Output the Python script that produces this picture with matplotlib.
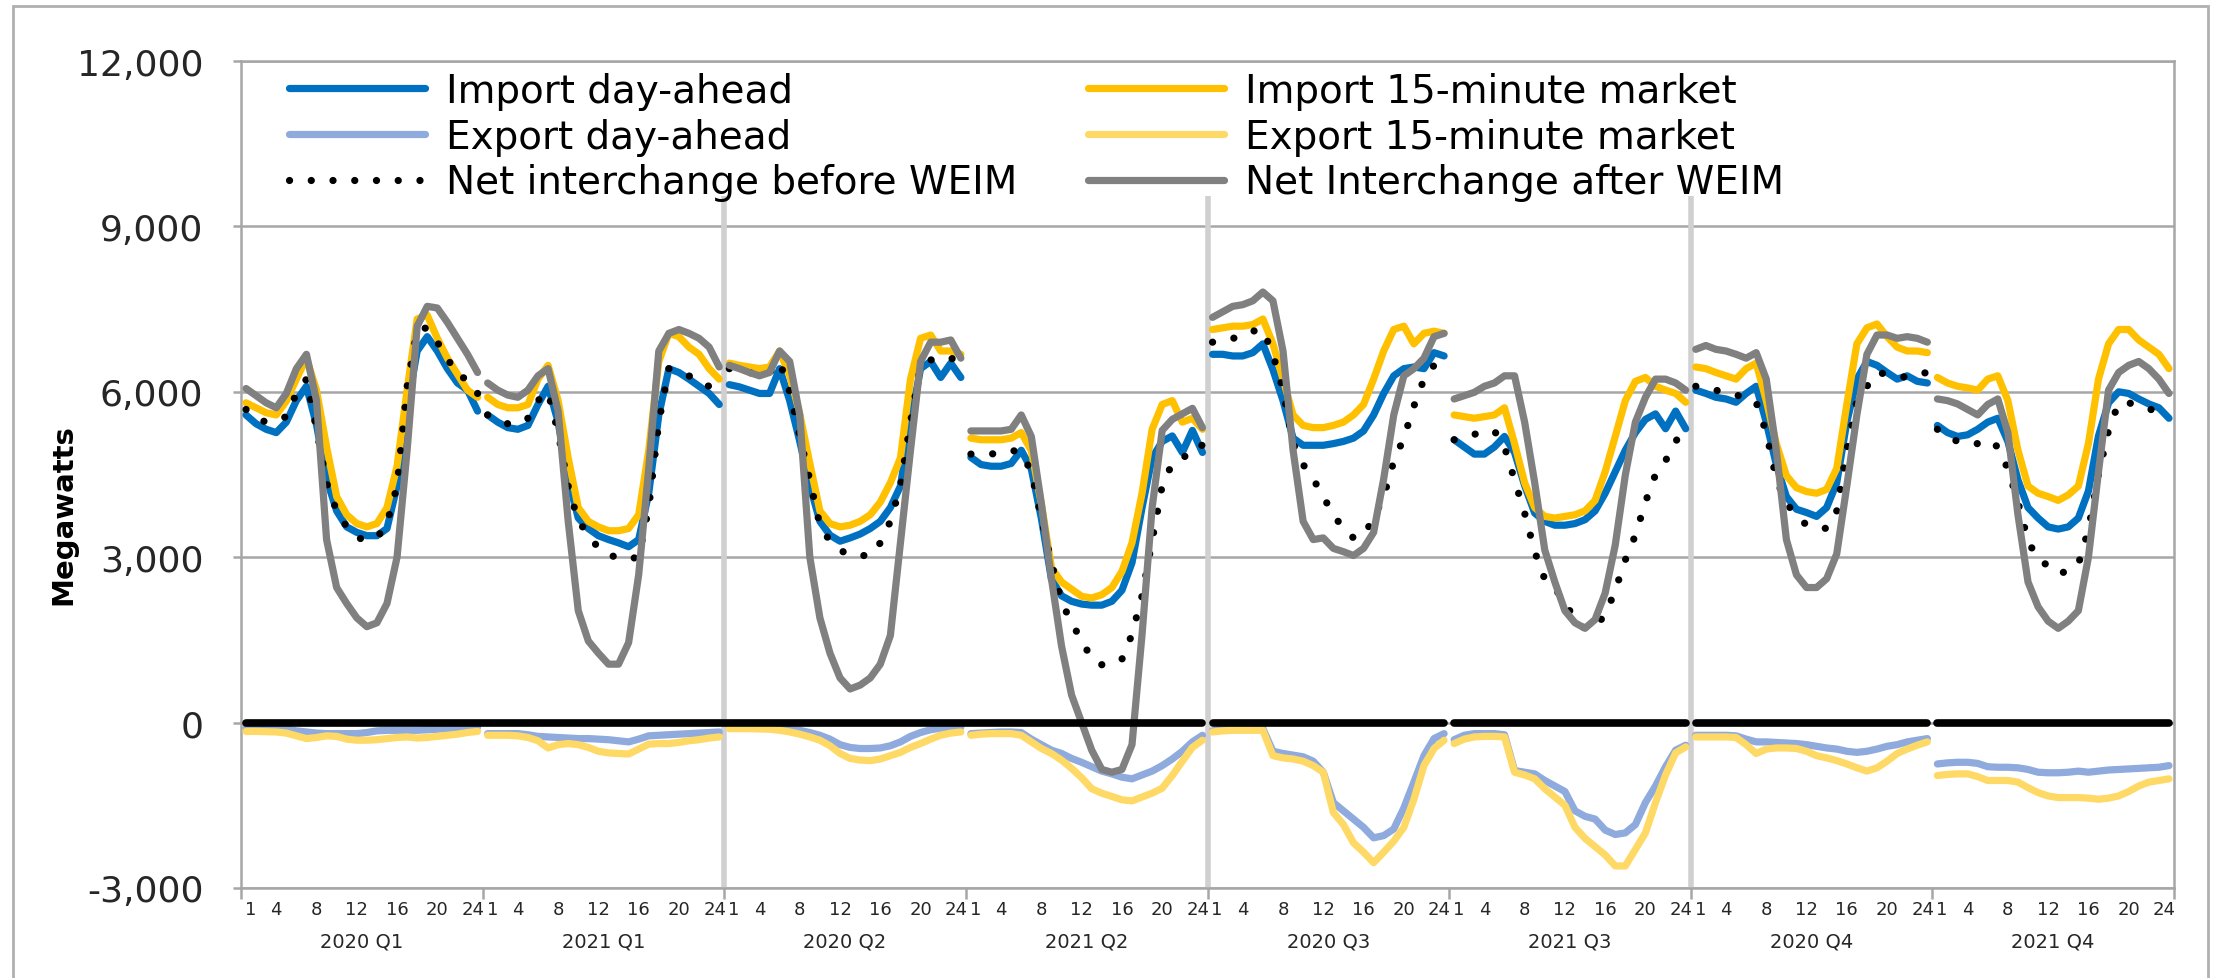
import numpy as np
import matplotlib
matplotlib.use("Agg")
import matplotlib.pyplot as plt
from matplotlib.lines import Line2D
from matplotlib.patches import Rectangle
from matplotlib.ticker import FuncFormatter

# average hourly WEIM transfers (MW) by quarter, hour-ending 1..24
quarters = ['2020 Q1', '2021 Q1', '2020 Q2', '2021 Q2',
            '2020 Q3', '2021 Q3', '2020 Q4', '2021 Q4']
hour_ticks = [1, 4, 8, 12, 16, 20, 24]

import_da = [
    [5580, 5420, 5320, 5260, 5450, 5840, 6100, 5400, 4420, 3840, 3550, 3450, 3390, 3390, 3520, 4290, 5710, 6740, 7000, 6740, 6420, 6160, 6030, 5650],
    [5580, 5450, 5350, 5320, 5390, 5770, 6100, 5450, 4420, 3710, 3520, 3390, 3320, 3260, 3190, 3320, 4160, 5580, 6420, 6350, 6230, 6100, 5970, 5770],
    [6130, 6090, 6030, 5970, 5970, 6420, 5840, 5100, 4300, 3650, 3400, 3290, 3350, 3420, 3520, 3650, 3900, 4290, 5450, 6420, 6550, 6260, 6520, 6260],
    [4810, 4680, 4650, 4650, 4700, 4940, 4600, 3700, 2600, 2300, 2200, 2150, 2130, 2130, 2200, 2400, 2900, 3900, 4800, 5100, 5200, 4900, 5300, 4900],
    [6680, 6680, 6650, 6650, 6710, 6870, 6400, 5840, 5160, 5030, 5030, 5030, 5060, 5100, 5160, 5290, 5580, 5970, 6290, 6420, 6450, 6420, 6710, 6650],
    [5130, 5000, 4870, 4870, 5000, 5190, 4900, 4300, 3800, 3650, 3580, 3580, 3610, 3680, 3840, 4160, 4550, 4940, 5260, 5500, 5600, 5330, 5650, 5330],
    [6030, 5970, 5900, 5870, 5810, 5970, 6100, 5450, 4680, 4100, 3870, 3810, 3740, 3900, 4350, 5450, 6230, 6550, 6480, 6350, 6230, 6290, 6190, 6160],
    [5390, 5260, 5190, 5220, 5320, 5450, 5520, 5100, 4400, 3900, 3710, 3550, 3510, 3550, 3710, 4200, 5200, 5800, 6000, 5970, 5870, 5780, 5710, 5520],
]

import_15m = [
    [5800, 5710, 5620, 5580, 5830, 6230, 6610, 6030, 5000, 4100, 3770, 3610, 3550, 3610, 3900, 4650, 6030, 7320, 7390, 6970, 6610, 6320, 6030, 5900],
    [5900, 5770, 5710, 5710, 5770, 6230, 6480, 5840, 4800, 3900, 3650, 3550, 3480, 3480, 3520, 3770, 4935, 6550, 7060, 7000, 6810, 6680, 6420, 6230],
    [6520, 6480, 6450, 6420, 6450, 6740, 6300, 5600, 4700, 3840, 3610, 3550, 3580, 3650, 3770, 4000, 4350, 4800, 6230, 6970, 7030, 6740, 6740, 6680],
    [5160, 5130, 5130, 5130, 5160, 5260, 4935, 3970, 2810, 2550, 2420, 2290, 2260, 2320, 2450, 2740, 3260, 4160, 5320, 5770, 5840, 5450, 5520, 5320],
    [7130, 7160, 7190, 7190, 7220, 7320, 6870, 6230, 5580, 5390, 5350, 5350, 5390, 5450, 5580, 5770, 6230, 6740, 7130, 7190, 6870, 7060, 7100, 7060],
    [5580, 5550, 5520, 5550, 5580, 5710, 5060, 4350, 3900, 3740, 3710, 3740, 3770, 3840, 4030, 4550, 5190, 5840, 6190, 6260, 6100, 6030, 5970, 5810],
    [6450, 6420, 6350, 6290, 6230, 6420, 6520, 5840, 5060, 4480, 4260, 4190, 4160, 4230, 4610, 5770, 6870, 7160, 7230, 7000, 6810, 6740, 6740, 6710],
    [6260, 6160, 6100, 6070, 6030, 6230, 6290, 5840, 4940, 4290, 4160, 4100, 4030, 4130, 4290, 5060, 6230, 6870, 7130, 7130, 6940, 6810, 6680, 6420],
]

export_da = [
    [-100, -100, -100, -110, -120, -150, -170, -190, -200, -200, -200, -200, -180, -150, -140, -140, -140, -140, -130, -120, -110, -100, -90, -80],
    [-200, -200, -200, -200, -220, -250, -260, -270, -280, -290, -290, -300, -310, -330, -350, -300, -240, -230, -220, -210, -200, -190, -180, -170],
    [-80, -80, -80, -80, -80, -90, -110, -140, -180, -230, -300, -400, -450, -470, -470, -460, -420, -350, -250, -180, -130, -100, -90, -80],
    [-200, -190, -180, -170, -170, -180, -300, -400, -500, -560, -650, -720, -800, -880, -930, -990, -1020, -950, -880, -780, -660, -520, -350, -230],
    [-150, -120, -110, -110, -110, -110, -520, -560, -590, -620, -700, -900, -1450, -1600, -1750, -1900, -2090, -2050, -1930, -1550, -1080, -600, -290, -200],
    [-310, -230, -200, -200, -200, -220, -870, -900, -930, -1050, -1150, -1250, -1600, -1700, -1750, -1950, -2030, -2000, -1850, -1450, -1150, -800, -500, -410],
    [-230, -230, -230, -230, -240, -300, -350, -350, -360, -370, -380, -400, -430, -460, -480, -520, -540, -520, -480, -430, -400, -350, -320, -290],
    [-750, -730, -720, -720, -740, -800, -810, -810, -820, -850, -900, -910, -910, -900, -880, -900, -880, -860, -850, -840, -830, -820, -810, -780],
]

export_15m = [
    [-160, -160, -165, -170, -190, -240, -290, -270, -240, -250, -300, -320, -320, -310, -290, -270, -260, -280, -270, -250, -230, -210, -180, -160],
    [-230, -230, -230, -240, -270, -330, -460, -400, -380, -400, -450, -520, -550, -560, -570, -480, -390, -380, -380, -360, -330, -310, -280, -260],
    [-110, -110, -110, -115, -120, -140, -170, -210, -260, -320, -420, -560, -650, -680, -690, -660, -600, -540, -450, -380, -300, -230, -190, -170],
    [-230, -210, -200, -200, -200, -230, -350, -470, -560, -680, -830, -1000, -1200, -1280, -1340, -1400, -1420, -1350, -1280, -1190, -960, -700, -450, -320],
    [-170, -150, -140, -140, -140, -140, -600, -640, -660, -700, -780, -900, -1630, -1850, -2180, -2350, -2540, -2350, -2150, -1900, -1390, -780, -470, -320],
    [-380, -300, -260, -250, -250, -260, -900, -950, -1020, -1200, -1350, -1500, -1900, -2100, -2250, -2400, -2600, -2600, -2300, -2000, -1450, -950, -550, -440],
    [-260, -260, -260, -260, -270, -400, -560, -480, -460, -460, -470, -520, -600, -640, -690, -750, -820, -880, -820, -700, -560, -480, -410, -350],
    [-960, -940, -930, -930, -980, -1050, -1050, -1050, -1080, -1180, -1270, -1330, -1360, -1360, -1360, -1370, -1390, -1370, -1330, -1250, -1150, -1080, -1050, -1020],
]

net_before = [
    [5680, 5520, 5450, 5480, 5550, 5970, 6230, 5320, 4350, 3840, 3550, 3350, 3320, 3350, 3610, 4290, 6100, 7130, 7160, 6900, 6610, 6290, 6230, 5970],
    [5580, 5480, 5420, 5420, 5520, 5840, 6000, 5260, 4290, 3650, 3420, 3160, 3060, 2970, 2970, 3000, 3900, 5450, 6420, 6350, 6290, 6160, 6100, 6000],
    [6420, 6400, 6350, 6300, 6350, 6550, 6000, 5200, 4400, 3580, 3290, 3130, 3030, 3030, 3030, 3260, 3650, 4290, 5450, 6480, 6580, 6550, 6610, 6550],
    [4870, 4870, 4870, 4900, 4940, 4900, 4550, 3700, 2900, 2200, 1800, 1500, 1150, 1050, 1060, 1150, 1600, 2300, 3300, 4300, 4700, 4770, 5000, 5030],
    [6900, 6950, 6970, 7000, 7100, 7130, 6680, 6030, 5060, 4680, 4420, 4100, 3770, 3520, 3350, 3390, 3710, 4100, 4740, 5160, 5740, 6230, 6480, 6680],
    [5130, 5190, 5230, 5260, 5290, 5000, 4400, 3800, 3100, 2600, 2450, 2150, 1900, 1700, 1750, 1950, 2400, 2950, 3400, 4000, 4500, 4750, 5100, 5350],
    [6100, 6060, 6030, 5970, 5940, 5900, 5810, 5260, 4420, 3970, 3770, 3580, 3550, 3520, 3840, 4940, 5840, 6100, 6350, 6320, 6290, 6260, 6320, 6350],
    [5320, 5190, 5100, 5060, 5060, 5130, 5000, 4600, 4000, 3300, 2950, 2850, 2700, 2750, 2870, 3500, 4500, 5300, 5800, 5800, 5750, 5700, 5600, 5500],
]

net_after = [
    [6060, 5930, 5800, 5710, 5970, 6420, 6680, 5840, 3320, 2450, 2160, 1900, 1740, 1810, 2160, 3000, 4940, 7190, 7550, 7520, 7260, 6970, 6680, 6350],
    [6160, 6030, 5940, 5900, 6030, 6290, 6420, 5650, 3650, 2030, 1480, 1260, 1060, 1060, 1450, 2680, 4610, 6740, 7060, 7130, 7060, 6970, 6810, 6450],
    [6480, 6420, 6350, 6290, 6350, 6740, 6550, 5580, 3000, 1900, 1260, 810, 610, 680, 810, 1060, 1580, 3260, 4940, 6550, 6900, 6900, 6940, 6610],
    [5290, 5290, 5290, 5290, 5320, 5580, 5190, 3970, 2610, 1390, 500, 0, -500, -850, -900, -850, -400, 1600, 3900, 5300, 5500, 5600, 5700, 5350],
    [7350, 7450, 7550, 7580, 7650, 7810, 7650, 6740, 4940, 3650, 3320, 3350, 3160, 3100, 3030, 3160, 3450, 4420, 5580, 6290, 6420, 6610, 7000, 7060],
    [5870, 5930, 5990, 6100, 6160, 6290, 6290, 5450, 4350, 3130, 2550, 2030, 1810, 1710, 1870, 2350, 3220, 4490, 5450, 5900, 6230, 6230, 6160, 6030],
    [6770, 6840, 6770, 6740, 6680, 6610, 6710, 6230, 4940, 3320, 2680, 2450, 2450, 2610, 3060, 4290, 5580, 6680, 7030, 7030, 6970, 7000, 6970, 6900],
    [5870, 5840, 5780, 5680, 5580, 5770, 5870, 5260, 3770, 2550, 2100, 1840, 1710, 1840, 2030, 3000, 4550, 6030, 6350, 6480, 6550, 6420, 6230, 5970],
]

HOURS = 24
LW = 5.2
GRID = '#a6a6a6'
TXT = '#262626'
DOT = (0, (0.01, 3.0))

series = [
    ('Import day-ahead', import_da, dict(color='#0070c0')),
    ('Import 15-minute market', import_15m, dict(color='#ffc000')),
    ('Export day-ahead', export_da, dict(color='#8faadc')),
    ('Export 15-minute market', export_15m, dict(color='#ffd966')),
    ('Net interchange before WEIM', net_before, dict(color='black', linestyle=DOT, dash_capstyle='round')),
    ('Net Interchange after WEIM', net_after, dict(color='#808080')),
]

fig = plt.figure(figsize=(22.21, 9.79), dpi=100)
ax = fig.add_axes([241 / 2221, 90 / 979, 1933 / 2221, 827 / 979])

ngroups = len(quarters)
for z, (name, data, kw) in enumerate(series):
    for g in range(ngroups):
        x = g * HOURS + np.arange(HOURS)
        ax.plot(x, data[g], lw=LW, solid_capstyle='round', solid_joinstyle='round',
                zorder=3 + z * 0.1, **kw)

# zero reference line, broken between some quarters
zero_runs = [(0, 4), (4, 5), (5, 6), (6, 7), (7, 8)]
for a, b in zero_runs:
    xs = np.arange(a * HOURS, b * HOURS)
    ax.plot(xs, np.zeros(len(xs)), color='black', lw=5.5, solid_capstyle='round', zorder=5)

# quarter separators
for b in [2, 4, 6]:
    ax.plot([b * HOURS - 0.5] * 2, [-3000, 9550], color='#d0d0d0', lw=4,
            solid_capstyle='butt', zorder=1)

ax.set_xlim(-0.5, ngroups * HOURS - 0.5)
ax.set_ylim(-3000, 12000)
ax.set_yticks(np.arange(-3000, 12001, 3000))
ax.yaxis.set_major_formatter(FuncFormatter(lambda v, p: f'{int(v):,}'))
ax.grid(axis='y', color=GRID, lw=1.8, zorder=0)
ax.set_axisbelow(True)
for s in ax.spines.values():
    s.set_color(GRID)
    s.set_linewidth(1.8)

# hour labels; the first and last hour of each quarter are nudged apart
xt, xl = [], []
for g in range(ngroups):
    for h in hour_ticks:
        nudge = 0.45 if h == 1 else (-0.45 if h == 24 else 0)
        xt.append(g * HOURS + h - 1 + nudge)
        xl.append(str(h))
ax.set_xticks(xt)
ax.set_xticklabels(xl)
ax.set_xticks([g * HOURS - 0.5 for g in range(ngroups + 1)], minor=True)
ax.tick_params(axis='x', which='major', length=0, pad=9, labelsize=13, labelcolor=TXT)
ax.tick_params(axis='x', which='minor', length=8, width=1.8, color=GRID)
ax.tick_params(axis='y', length=6, width=1.8, color=GRID, pad=21, labelsize=26, labelcolor=TXT)

for g, q in enumerate(quarters):
    ax.text(g * HOURS + 11.5, -0.064, q, transform=ax.get_xaxis_transform(),
            ha='center', va='center', fontsize=14, color=TXT)

fig.text(63 / 2221, 1 - 515 / 979, 'Megawatts', rotation=90, ha='center', va='center',
         fontsize=21, fontweight='bold', family=['Liberation Sans Narrow', 'DejaVu Sans'])

handles = []
for name, data, kw in series:
    handles.append(Line2D([], [], lw=LW, solid_capstyle='round', label=name, **kw))
order = [0, 2, 4, 1, 3, 5]
ax.legend(handles=[handles[i] for i in order], ncol=2, loc='upper left',
          bbox_to_anchor=(0.025, 0.987), frameon=False, fontsize=28,
          handlelength=3.5, handletextpad=0.54, columnspacing=1.8,
          labelspacing=0.2, borderpad=0, borderaxespad=0)

fig.add_artist(Rectangle((13 / 2221, -0.01), 2195 / 2221, 1 - 7 / 979 + 0.01,
                         transform=fig.transFigure, fill=False, edgecolor='#b0b0b0', lw=2))

fig.savefig('out.png', dpi=100)
